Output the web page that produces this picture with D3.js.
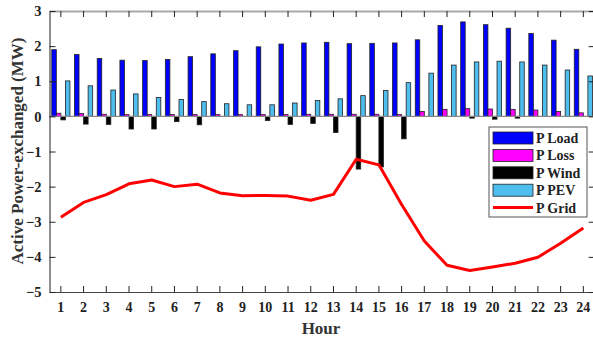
<!DOCTYPE html>
<html><head><meta charset="utf-8">
<script src="https://cdn.jsdelivr.net/npm/d3@7/dist/d3.min.js"></script>
<style>body{margin:0;background:#fff;} svg{display:block;}</style>
</head><body>
<svg id="c" width="593" height="337"></svg>
<script>
const hours = d3.range(1, 25);
const pLoad = [1.90,1.76,1.65,1.60,1.59,1.62,1.70,1.78,1.87,1.98,2.06,2.09,2.11,2.07,2.08,2.09,2.18,2.59,2.69,2.61,2.51,2.36,2.17,1.91];
const pLoss = [0.09,0.08,0.06,0.05,0.05,0.05,0.05,0.05,0.05,0.05,0.05,0.06,0.06,0.06,0.06,0.05,0.14,0.20,0.22,0.21,0.20,0.18,0.14,0.10];
const pWind = [-0.10,-0.22,-0.23,-0.36,-0.36,-0.15,-0.24,0,0,-0.12,-0.23,-0.20,-0.46,-1.50,-1.44,-0.64,0,0,-0.05,-0.08,-0.05,0,0,0];
const pPEV  = [1.01,0.87,0.75,0.64,0.54,0.48,0.42,0.36,0.33,0.33,0.38,0.45,0.50,0.59,0.74,0.96,1.23,1.46,1.55,1.57,1.55,1.46,1.32,1.15];
const pGrid = [-2.87,-2.45,-2.23,-1.92,-1.81,-2.00,-1.93,-2.18,-2.26,-2.25,-2.27,-2.39,-2.22,-1.22,-1.38,-2.51,-3.55,-4.24,-4.39,-4.29,-4.18,-4.01,-3.61,-3.18];
const yTicks = [3,2,1,0,-1,-2,-3,-4,-5];
const seriesNames = ["P Load","P Loss","P Wind","P PEV"];
const seriesColors = ["#0000ff","#ff00ff","#000000","#4dbeee"];
const barSeries = [pLoad, pLoss, pWind, pPEV];

const svg = d3.select("#c");
const L = 49.5, R = 594.7, T = 11, B = 292;
const font = "'Liberation Serif','Times New Roman',serif";

const x = d3.scaleBand().domain(hours).range([L, R]).padding(0);
const y = d3.scaleLinear().domain([-5, 3]).range([B, T]);
const xs = d3.scaleBand().domain(d3.range(4)).range([0, x.bandwidth()*0.8]).padding(0);
const off = x.bandwidth()*0.1;

// bars
barSeries.forEach((vals, si) => {
  svg.append("g").selectAll("rect").data(vals).join("rect")
    .attr("x", (d,i) => x(hours[i]) + off + xs(si))
    .attr("width", xs.bandwidth())
    .attr("y", d => y(Math.max(0,d)))
    .attr("height", d => Math.abs(y(d)-y(0)))
    .attr("fill", seriesColors[si])
    .attr("stroke", "#222").attr("stroke-width", 0.8)
    .attr("display", d => d === 0 ? "none" : null);
});

// zero baseline
svg.append("line").attr("x1", L).attr("x2", R).attr("y1", y(0)).attr("y2", y(0))
  .attr("stroke", "#888").attr("stroke-width", 1.2);

// grid line
const line = d3.line().x((d,i) => x(hours[i]) + x.bandwidth()/2).y(d => y(d));
svg.append("path").datum(pGrid).attr("d", line).attr("fill","none")
  .attr("stroke","#ff0000").attr("stroke-width",3).attr("stroke-linejoin","round");

// axes
const axStyle = g => {
  g.selectAll("path").attr("stroke","#444").attr("stroke-width",1.2);
  g.selectAll("line").attr("stroke","#222");
  g.selectAll("text").attr("font-family", font).attr("font-weight","bold").attr("font-size","14px").attr("fill","#222");
};
svg.append("g").attr("transform",`translate(0,${B})`)
  .call(d3.axisBottom(x).tickSizeInner(-6).tickSizeOuter(0).tickPadding(10))
  .call(axStyle);
svg.append("g").attr("transform",`translate(0,${T})`)
  .call(d3.axisTop(x).tickSizeInner(-6).tickSizeOuter(0).tickFormat(""))
  .call(axStyle).call(g => g.select("path").attr("stroke","#aaa").attr("stroke-width",2));
svg.append("g").attr("transform",`translate(${L},0)`)
  .call(d3.axisLeft(y).tickValues(yTicks).tickSizeInner(-6).tickSizeOuter(0).tickPadding(8))
  .call(axStyle)
  .call(g => g.selectAll("text").attr("font-size","14.5px"));
svg.append("g").attr("transform",`translate(${R},0)`)
  .call(d3.axisRight(y).tickValues(yTicks).tickSizeInner(-6).tickSizeOuter(0).tickFormat(""))
  .call(axStyle);

// titles
svg.append("text").attr("x", 321).attr("y", 334).attr("text-anchor","middle")
  .attr("font-family", font).attr("font-weight","bold").attr("font-size","17px").attr("fill","#333").text("Hour");
svg.append("text").attr("transform",`translate(22.5,151) rotate(-90)`).attr("text-anchor","middle")
  .attr("font-family", font).attr("font-weight","bold").attr("font-size","17px").attr("fill","#333")
  .text("Active Power-exchanged (MW)");

// legend
const lg = svg.append("g").attr("transform","translate(489,127)");
lg.append("rect").attr("width",98).attr("height",90).attr("fill","#fff").attr("stroke","#555").attr("stroke-width",1);
const legendItems = seriesNames.map((n,i)=>({name:n,color:seriesColors[i],type:"bar"})).concat([{name:"P Grid",color:"#ff0000",type:"line"}]);
legendItems.forEach((it,i) => {
  const cy = 11 + i*17.4;
  if (it.type === "bar") {
    lg.append("rect").attr("x",4).attr("y",cy-6).attr("width",40).attr("height",12)
      .attr("fill",it.color).attr("stroke","#222").attr("stroke-width",0.8);
  } else {
    lg.append("line").attr("x1",4).attr("x2",44).attr("y1",cy).attr("y2",cy).attr("stroke",it.color).attr("stroke-width",3);
  }
  lg.append("text").attr("x",47).attr("y",cy+5).attr("font-family",font).attr("font-weight","bold")
    .attr("font-size","14px").attr("fill","#222").text(it.name);
});
</script>
</body></html>
